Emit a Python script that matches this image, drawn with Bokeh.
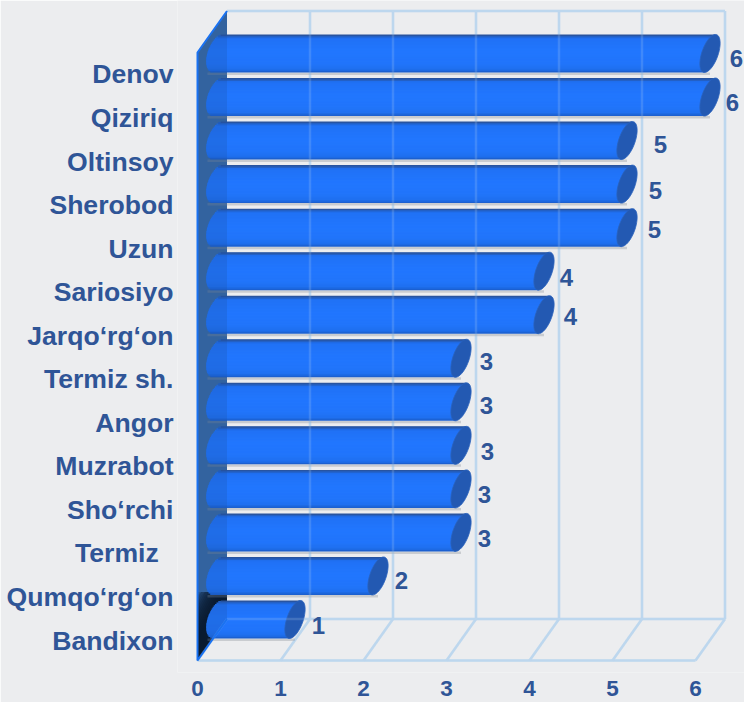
import numpy as np
from bokeh.embed import file_html
from bokeh.models import ColumnDataSource, FixedTicker, LinearAxis, Range1d
from bokeh.plotting import figure
from bokeh.resources import INLINE
from bokeh.core.properties import value

# ---- data (top to bottom as in the reference)
districts = ["Denov", "Qiziriq", "Oltinsoy", "Sherobod", "Uzun", "Sariosiyo", "Jarqo‘rg‘on",
             "Termiz sh.", "Angor", "Muzrabot", "Sho‘rchi", "Termiz\u00a0\u00a0", "Qumqo‘rg‘on", "Bandixon"]
values = [6, 6, 5, 5, 5, 4, 4, 3, 3, 3, 3, 3, 2, 1]
x_ticks = [0, 1, 2, 3, 4, 5, 6]

# ---- styles / layout
BG = "#ecedef"
TEXT = "#2f5597"
GRID = "#bdd7ee"
FONT = "Liberation Sans"
PX_X, PX_Y = 83.0, 43.54         # pixels per value unit / per row
DX, DY = 29.5 / PX_X, 41.5 / PX_Y    # depth of the 3-D box
FLOOR_Y = -41 / PX_Y             # front edge of the floor, in rows
TOP_Y = 13.0 + 1 / PX_Y + DY     # top of the back wall
# per-label nudges in pixels (the reference places them by hand)
label_dx = [41, 37, 48, 43, 42, 37, 41, 40, 40, 41, 38, 38, 38, 38]
label_dy = [-5, -5.5, -4, -6.4, -2, -6, -2, -3, -4, -6, -6, -6, -5, -6]

n = len(values)
rows = np.arange(n)[::-1].astype(float)

p = figure(width=744, height=702, output_backend="svg", toolbar_location=None,
           x_range=Range1d(-20 / PX_X, 547 / PX_X), y_range=Range1d(-53 / PX_Y, 619 / PX_Y),
           background_fill_color=BG, border_fill_color=BG, outline_line_color=None,
           min_border_left=177, min_border_right=0, min_border_top=0, min_border_bottom=30,
           styles={"position": "absolute", "left": "0", "top": "0"}, x_axis_location=None, y_axis_location=None)
p.grid.visible = False

# x axis
xa = LinearAxis(ticker=FixedTicker(ticks=x_ticks), axis_line_color=None, major_tick_line_color=None,
                minor_tick_line_color=None, major_label_text_font=FONT, major_label_text_font_style="bold",
                major_label_text_font_size="22.5px", major_label_text_color=TEXT, major_label_standoff=2)
p.add_layout(xa, "below")

# y axis: labels sit about half a row under their bars, hence a shifted range
p.extra_y_ranges["labels"] = Range1d(-32 / PX_Y, 640 / PX_Y)
ya = LinearAxis(y_range_name="labels", ticker=FixedTicker(ticks=list(range(n))),
                major_label_overrides={int(r): d for r, d in zip(rows, districts)},
                axis_line_color=None, major_tick_line_color=None, minor_tick_line_color=None,
                major_label_text_font=FONT, major_label_text_font_style="bold",
                major_label_text_font_size="26.6px", major_label_text_color=TEXT, major_label_standoff=-2)
p.add_layout(ya, "left")

xmax = max(x_ticks)
left_wall_x = [0, DX, DX, 0]
left_wall_y = [FLOOR_Y, FLOOR_Y + DY, TOP_Y, TOP_Y - DY]


def grid(alpha):
    xs, ys = [], []
    for t in x_ticks[1:]:
        xs.append([t + DX, t + DX]); ys.append([FLOOR_Y + DY, TOP_Y])      # back wall
    for t in x_ticks:
        xs.append([t, t + DX]); ys.append([FLOOR_Y, FLOOR_Y + DY])          # floor diagonals
    xs += [[DX, xmax + DX], [DX, xmax + DX], [0, xmax]]
    ys += [[TOP_Y, TOP_Y], [FLOOR_Y + DY, FLOOR_Y + DY], [FLOOR_Y, FLOOR_Y]]
    p.multi_line(xs, ys, line_color=GRID, line_width=2.5, line_alpha=alpha)


grid(1.0)

# left wall
p.patch(left_wall_x, left_wall_y, fill_color="#3a6aa0", line_color=None)

# dark shade at the foot of the wall: nested translucent layers give a soft edge
back_y = FLOOR_Y + DY
top_limit = back_y + 27 / PX_Y
xs_s = np.linspace(0, DX, 9)
shade_x, shade_y = [], []
for c in np.linspace(0.05, 1.0, 14):
    edge = back_y - ((c - 0.6) / 0.02 - 0.0375 / 0.02 * xs_s * PX_X) / PX_Y
    edge = np.minimum(edge, top_limit)
    floor_line = FLOOR_Y + xs_s / DX * DY
    edge = np.maximum(edge, floor_line)
    shade_x.append(list(xs_s) + list(xs_s[::-1]))
    shade_y.append(list(floor_line) + list(edge[::-1]))
p.patches(shade_x, shade_y, fill_color="#05080f", fill_alpha=0.2, line_color=None)

# bars: cylinders built from many thin strips, for the vertical shading
N = 26
HALF = 19.0 / PX_Y
A = 8.5 / PX_X          # half width of the right end caps
A_L = 11.0 / PX_X       # half width of the left end caps
SHEAR = 5.5 / PX_X      # slant of the end caps
LEFT = 21 / PX_X
RIGHT = 14.5 / PX_X
f_edges = np.linspace(-1, 1, N + 1)
f_mid = (f_edges[:-1] + f_edges[1:]) / 2
stops_f = [-1.0, -0.93, -0.82, -0.55, 0.1, 0.75, 0.95, 1.0]
stops_c = np.array([[0x1b, 0x5a, 0xc4], [0x1c, 0x66, 0xdc], [0x1f, 0x70, 0xf0], [0x21, 0x75, 0xfb],
                    [0x22, 0x77, 0xff], [0x20, 0x72, 0xf6], [0x1e, 0x6b, 0xe8], [0x1c, 0x64, 0xd8]])
top_dark = np.array([0x2b, 0x4f, 0x90])


def strip_color(f):
    c = [np.interp(f, stops_f, stops_c[:, k]) for k in range(3)]
    w = np.clip((f - 0.8) / 0.2, 0, 1)      # top edge (f near +1) is darker
    c = [c[k] * (1 - w) + top_dark[k] * w for k in range(3)]
    return "#%02x%02x%02x" % tuple(int(v) for v in c)


colors = [strip_color(f) for f in f_mid]
L, R, B, T, C = [], [], [], [], []
cap_x, cap_y = [], []
t = np.linspace(0, 2 * np.pi, 48)
overlap = 1.0 / PX_Y
for r, v in zip(rows, values):
    cl, cr = LEFT, v + RIGHT
    for k, f in enumerate(f_mid):
        w = np.sqrt(max(1 - f * f, 0)) * A_L
        L.append(cl + SHEAR * f - w)
        R.append(cr + SHEAR * f)
        B.append(r + HALF * f_edges[k])
        T.append(r + HALF * f_edges[k + 1] + (overlap if k < N - 1 else 0))
        C.append(colors[k])
    cap_x.append(list(cr + A * np.cos(t) + SHEAR * np.sin(t)))
    cap_y.append(list(r + HALF * np.sin(t)))
# soft shadow under every bar
p.quad(left=LEFT - A_L, right=[v + RIGHT for v in values], bottom=rows - HALF - 2.5 / PX_Y, top=rows - HALF,
       fill_color="#8a8f99", fill_alpha=0.35, line_color=None)
p.quad(left=L, right=R, bottom=B, top=T, fill_color=C, line_color=None)
p.patches(cap_x, cap_y, fill_color="#2359b2", line_color="#2a62bd", line_width=0.8)

# wall and grid tint the bars slightly
p.patch(left_wall_x, left_wall_y, fill_color="#1a4f9c", fill_alpha=0.22, line_color=None)
grid(0.2)

# bright blue edge of the left wall
p.line([DX, 0, 0, DX], [TOP_Y, TOP_Y - DY, FLOOR_Y, FLOOR_Y + DY], line_color="#1a72f2", line_width=2)

# value labels
src = ColumnDataSource(dict(x=np.array(values) + np.array(label_dx) / PX_X,
                            y=rows + np.array(label_dy) / PX_Y,
                            t=[str(v) for v in values]))
p.text("x", "y", text="t", source=src, text_font=value(FONT), text_font_style="bold", text_font_size="24px",
       text_color=TEXT, text_align="center", text_baseline="middle")

open("out.html", "w").write(file_html(p, INLINE))
